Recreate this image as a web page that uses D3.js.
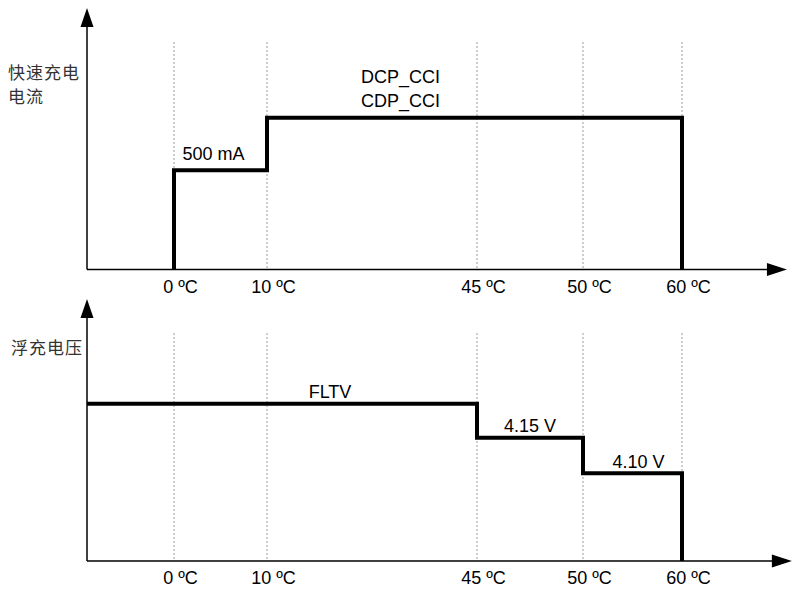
<!DOCTYPE html>
<meta charset="utf-8">
<style>
body { margin: 0; background: #fff; }
svg { display: block; font-family: "Liberation Sans", Arial, sans-serif; }
.grid line { stroke: #808080; stroke-width: 0.8; stroke-dasharray: 2,2; }
.step { fill: none; stroke: #000; stroke-width: 4; stroke-linejoin: miter; }
.axis-line { stroke: #000; stroke-width: 1.5; }
.tick text, .lbl { font-size: 18px; fill: #000; }
.ylab { font-family: "Noto Sans CJK SC", sans-serif; font-size: 17px; letter-spacing: 1px; fill: #333; }
</style>
<body>
<script src="https://cdnjs.cloudflare.com/ajax/libs/d3/7.8.5/d3.min.js"></script>
<script>

var tickTemps = [0, 10, 45, 50, 60];
var tickLabels = ["0 ºC", "10 ºC", "45 ºC", "50 ºC", "60 ºC"];

// fast charge current (schematic levels)
var currentFrom = [0, 10];
var currentTo = [10, 60];
var currentLevel = [38, 58];
var currentLabels = [["500 mA"], ["DCP_CCI", "CDP_CCI"]];

// float voltage (first step starts at the y axis)
var voltFrom = [-10, 45, 50];
var voltTo = [45, 50, 60];
var voltLevel = [60, 47, 33.5];
var voltLabels = [["FLTV"], ["4.15 V"], ["4.10 V"]];

var width = 795, height = 594;

// temperature axis is not to scale: piecewise
var x = d3.scaleLinear()
    .domain([-10, 0, 10, 45, 50, 60])
    .range([87, 174, 267, 477, 583, 682]);

var svg = d3.select("body").append("svg")
    .attr("width", width)
    .attr("height", height);

var panels = [
  {top: 8, axisY: 269.5, xEnd: 70.6, title: ["快速充电", "电流"], titleX: 8, titleY: 79,
   from: currentFrom, to: currentTo, level: currentLevel, labels: currentLabels,
   labelDx: [-7, -74], labelGap: 10.5, startAtZero: true},
  {top: 299, axisY: 561, xEnd: 71.1, title: ["浮充电压"], titleX: 11, titleY: 354,
   from: voltFrom, to: voltTo, level: voltLevel, labels: voltLabels,
   labelDx: [48, 0, 6], labelGap: 5.5, startAtZero: false}
];

panels.forEach(function(p) {
  var y = d3.scaleLinear().domain([0, 100]).range([p.axisY, p.top]);
  var g = svg.append("g");
  var x0 = x(-10);

  // dotted guides
  g.append("g").attr("class", "grid")
    .selectAll("line").data(tickTemps).enter().append("line")
      .attr("x1", function(d) { return x(d); })
      .attr("x2", function(d) { return x(d); })
      .attr("y1", y(87))
      .attr("y2", p.axisY);

  // tick labels
  var xAxis = d3.axisBottom(x)
      .tickValues(tickTemps)
      .tickSize(0)
      .tickPadding(10.5)
      .tickFormat(function(d, i) { return tickLabels[i]; });
  var ax = g.append("g")
      .attr("transform", "translate(0," + p.axisY + ")")
      .call(xAxis);
  ax.select(".domain").remove();
  ax.selectAll("text").attr("dx", 6);
  ax.attr("font-family", null).attr("font-size", null);

  // axes with arrows
  var tipX = x(p.xEnd);
  g.append("line").attr("class", "axis-line")
    .attr("x1", x0).attr("x2", tipX - 18)
    .attr("y1", p.axisY).attr("y2", p.axisY);
  g.append("path")
    .attr("d", "M" + tipX + "," + p.axisY + "L" + (tipX - 20) + "," + (p.axisY - 6.5) +
               "L" + (tipX - 20) + "," + (p.axisY + 6.5) + "Z");
  g.append("line").attr("class", "axis-line")
    .attr("x1", x0).attr("x2", x0)
    .attr("y1", p.axisY).attr("y2", p.top + 17);
  g.append("path")
    .attr("d", "M" + x0 + "," + p.top + "L" + (x0 - 6.5) + "," + (p.top + 19) +
               "L" + (x0 + 6.5) + "," + (p.top + 19) + "Z");

  // step line
  var pts = [];
  if (p.startAtZero) pts.push([p.from[0], 0]);
  p.from.forEach(function(f, i) {
    pts.push([f, p.level[i]]);
    pts.push([p.to[i], p.level[i]]);
  });
  pts.push([p.to[p.to.length - 1], 0]);
  var line = d3.line()
      .x(function(d) { return x(d[0]); })
      .y(function(d) { return y(d[1]); });
  g.append("path").attr("class", "step").attr("d", line(pts));

  // step labels
  p.labels.forEach(function(lines, i) {
    var cx = (x(p.from[i]) + x(p.to[i])) / 2 + p.labelDx[i];
    lines.forEach(function(t, j) {
      g.append("text").attr("class", "lbl")
        .attr("x", cx)
        .attr("y", y(p.level[i]) - p.labelGap - (lines.length - 1 - j) * 24)
        .attr("text-anchor", "middle")
        .text(t);
    });
  });

  // y label
  p.title.forEach(function(t, j) {
    g.append("text").attr("class", "ylab")
      .attr("x", p.titleX)
      .attr("y", p.titleY + j * 24)
      .text(t);
  });
});

</script>
</body>
